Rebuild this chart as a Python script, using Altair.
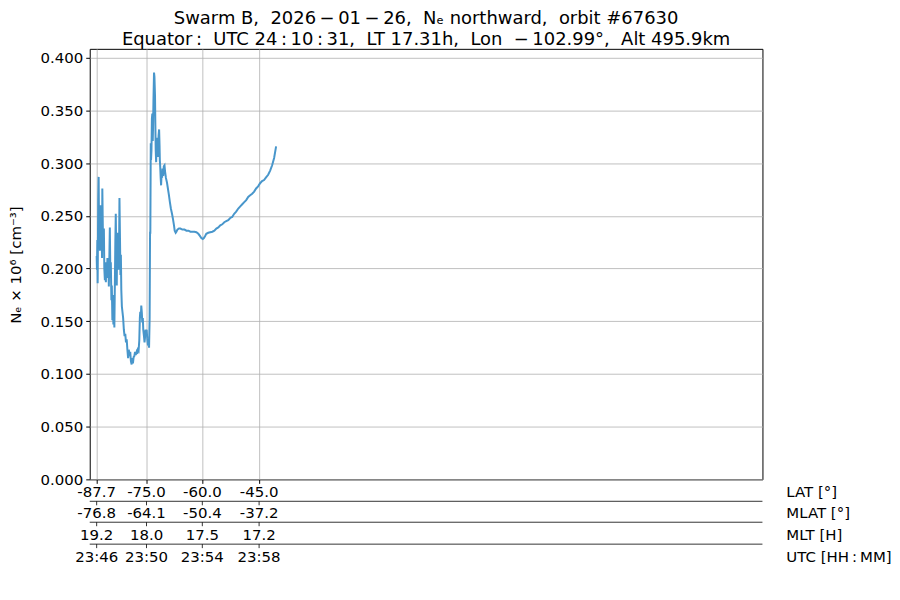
import altair as alt
import pandas as pd

# ---- data (time axis: minutes after 23:45 UTC; Ne in 10^6 cm^-3) ----
t_min = [1.75, 1.77, 1.80, 1.82, 1.86, 1.89, 1.92, 1.95, 1.98, 2.02, 2.06, 2.09, 2.13, 2.15,
         2.19, 2.22, 2.26, 2.29, 2.33, 2.36, 2.40, 2.43, 2.47, 2.51, 2.54, 2.58, 2.61, 2.65,
         2.68, 2.72, 2.75, 2.79, 2.82, 2.86, 2.89, 2.93, 2.96, 3.00, 3.03, 3.07, 3.10, 3.14,
         3.17, 3.20, 3.24, 3.28, 3.32, 3.36, 3.39, 3.43, 3.46, 3.49, 3.53, 3.58, 3.62, 3.67,
         3.72, 3.77, 3.82, 3.87, 3.92, 3.97, 4.02, 4.07, 4.12, 4.17, 4.22, 4.27, 4.31, 4.36,
         4.41, 4.46, 4.51, 4.57, 4.62, 4.66, 4.71, 4.76, 4.80, 4.83, 4.87, 4.90, 4.94, 4.97,
         5.01, 5.04, 5.09, 5.13, 5.16, 5.20, 5.24, 5.28, 5.32, 5.37, 5.41, 5.45, 5.49, 5.52,
         5.54, 5.57, 5.59, 5.62, 5.65, 5.68, 5.71, 5.73, 5.76, 5.80, 5.83, 5.87, 5.89, 5.92,
         5.95, 5.98, 6.01, 6.03, 6.06, 6.09, 6.12, 6.16, 6.19, 6.21, 6.24, 6.27, 6.30, 6.34,
         6.37, 6.40, 6.45, 6.49, 6.54, 6.58, 6.64, 6.71, 6.78, 6.85, 6.92, 6.99, 7.07, 7.14,
         7.21, 7.26, 7.33, 7.38, 7.45, 7.56, 7.66, 7.80, 7.95, 8.09, 8.23, 8.37, 8.51, 8.65,
         8.79, 8.93, 9.04, 9.14, 9.24, 9.32, 9.41, 9.49, 9.63, 9.77, 9.92, 10.06, 10.20, 10.34,
         10.48, 10.62, 10.76, 10.90, 11.04, 11.18, 11.32, 11.46, 11.60, 11.75, 11.89, 12.03,
         12.17, 12.31, 12.45, 12.59, 12.73, 12.87, 13.01, 13.15, 13.29, 13.43, 13.57, 13.71,
         13.86, 14.00, 14.14, 14.28, 14.42]
ne = [0.212, 0.199, 0.227, 0.186, 0.265, 0.287, 0.232, 0.255, 0.217, 0.260, 0.227, 0.246, 0.210, 0.276,
      0.235, 0.217, 0.238, 0.200, 0.189, 0.206, 0.187, 0.204, 0.194, 0.210, 0.191, 0.206, 0.183, 0.213,
      0.239, 0.191, 0.206, 0.170, 0.184, 0.151, 0.175, 0.147, 0.170, 0.144, 0.180, 0.227, 0.252, 0.203,
      0.184, 0.234, 0.199, 0.227, 0.199, 0.267, 0.236, 0.194, 0.213, 0.180, 0.164, 0.158, 0.153, 0.142,
      0.136, 0.138, 0.130, 0.133, 0.123, 0.115, 0.123, 0.117, 0.121, 0.112, 0.109, 0.115, 0.110, 0.116,
      0.117, 0.121, 0.118, 0.121, 0.119, 0.123, 0.122, 0.132, 0.153, 0.159, 0.153, 0.165, 0.158, 0.149,
      0.153, 0.142, 0.136, 0.130, 0.134, 0.142, 0.138, 0.142, 0.134, 0.127, 0.130, 0.125, 0.153, 0.234,
      0.234, 0.319, 0.303, 0.312, 0.342, 0.347, 0.321, 0.333, 0.359, 0.386, 0.382, 0.364, 0.340, 0.312,
      0.301, 0.317, 0.324, 0.310, 0.320, 0.306, 0.326, 0.332, 0.317, 0.303, 0.296, 0.286, 0.279, 0.292,
      0.286, 0.295, 0.288, 0.297, 0.298, 0.292, 0.286, 0.282, 0.276, 0.270, 0.263, 0.257, 0.252, 0.247,
      0.241, 0.236, 0.234, 0.235, 0.237, 0.238, 0.238, 0.237, 0.237, 0.236, 0.236, 0.235, 0.235, 0.235,
      0.2345, 0.233, 0.231, 0.229, 0.228, 0.229, 0.231, 0.233, 0.234, 0.2345, 0.235, 0.236, 0.238, 0.239,
      0.241, 0.242, 0.244, 0.245, 0.246, 0.248, 0.249, 0.252, 0.254, 0.257, 0.259, 0.261,
      0.263, 0.265, 0.268, 0.2695, 0.271, 0.273, 0.276, 0.278, 0.281, 0.283, 0.284, 0.2865,
      0.289, 0.293, 0.298, 0.305, 0.316]

tick_t = [1.75, 5.27, 9.21, 13.22]
lat_lbl = ["-87.7", "-75.0", "-60.0", "-45.0"]
mlat_lbl = ["-76.8", "-64.1", "-50.4", "-37.2"]
mlt_lbl = ["19.2", "18.0", "17.5", "17.2"]
utc_lbl = ["23:46", "23:50", "23:54", "23:58"]
row_names = ["LAT [°]", "MLAT [°]", "MLT [H]", "UTC [HH\u2009:\u2009MM]"]

NB = "\u00a0"
TH = "\u2009"
title_lines = [
    f"Swarm B,{NB}{NB}2026{TH}−{TH}01{TH}−{TH}26,{NB}{NB}Nₑ northward,{NB}{NB}orbit #67630",
    f"Equator{TH}:{NB}{NB}UTC 24{TH}:{TH}10{TH}:{TH}31,{NB}{NB}LT 17.31h,{NB}{NB}Lon{NB}{NB}−{TH}102.99°,{NB}{NB}Alt 495.9km",
]
y_title = "Nₑ × 10⁶ [cm⁻³]"

x_domain = [1.26, 48.76]
y_domain = [0, 0.4085]
y_ticks = [0, 0.05, 0.1, 0.15, 0.2, 0.25, 0.3, 0.35, 0.4]

FONT = "DejaVu Sans"
W, H = 675, 432

df = pd.DataFrame({"t": t_min, "ne": ne})
ticks_df = pd.DataFrame({"t": tick_t, "lat": lat_lbl, "mlat": mlat_lbl,
                         "mlt": mlt_lbl, "utc": utc_lbl})

xs = alt.Scale(domain=x_domain, nice=False, zero=False)
ys = alt.Scale(domain=y_domain, nice=False)

line = alt.Chart(df).mark_line(color="#4896cb", strokeWidth=2).encode(
    x=alt.X("t:Q", scale=xs,
            axis=alt.Axis(values=tick_t, labels=False, title=None, grid=True,
                          gridColor="#b0b0b0", gridWidth=0.8, tickColor="black",
                          tickSize=4, domain=False)),
    y=alt.Y("ne:Q", scale=ys,
            axis=alt.Axis(values=y_ticks, format=".3f", title=None, grid=True,
                          gridColor="#b0b0b0", gridWidth=0.8, tickColor="black",
                          tickSize=4, labelFontSize=15, labelFont=FONT,
                          labelColor="black", labelPadding=3, domain=False)),
)

row_y = [445, 466, 488, 510]
sep_y = [454, 475, 497]
layers = [line]
for field, yy in zip(["lat", "mlat", "mlt", "utc"], row_y):
    layers.append(alt.Chart(ticks_df).mark_text(fontSize=15, font=FONT, color="black",
                                                baseline="middle", align="center").encode(
        x=alt.X("t:Q", scale=xs), y=alt.value(yy), text=f"{field}:N"))

one = alt.Data(values=[{"a": 1}])
for sy in sep_y:
    layers.append(alt.Chart(one).mark_rule(color="black", strokeWidth=0.8).encode(
        x=alt.value(0), x2=alt.value(W), y=alt.value(sy)))
    layers.append(alt.Chart(ticks_df).mark_rule(color="black", strokeWidth=0.8).encode(
        x=alt.X("t:Q", scale=xs), y=alt.value(sy), y2=alt.value(sy + 4)))

for name, yy in zip(row_names, row_y):
    layers.append(alt.Chart(alt.Data(values=[{"name": name}])).mark_text(
        fontSize=15, font=FONT, color="black", align="left", baseline="middle").encode(
        x=alt.value(W + 24), y=alt.value(yy), text="name:N"))

layers.append(alt.Chart(alt.Data(values=[{"name": y_title}])).mark_text(
    fontSize=15, font=FONT, color="black", align="center", baseline="middle", angle=270).encode(
    x=alt.value(-74), y=alt.value(H / 2 + 1), text="name:N"))

chart = alt.layer(*layers).properties(
    width=W, height=H,
    title=alt.TitleParams(text=title_lines, fontSize=18, font=FONT, fontWeight="normal",
                          color="black", anchor="middle", lineHeight=21, offset=0),
    autosize=alt.AutoSizeParams(type="none"),
    padding={"left": 82, "top": 40, "right": 130, "bottom": 100},
).configure_view(stroke="black", strokeWidth=1)

chart.save("out.html", embed_options={"renderer": "svg", "actions": False})
